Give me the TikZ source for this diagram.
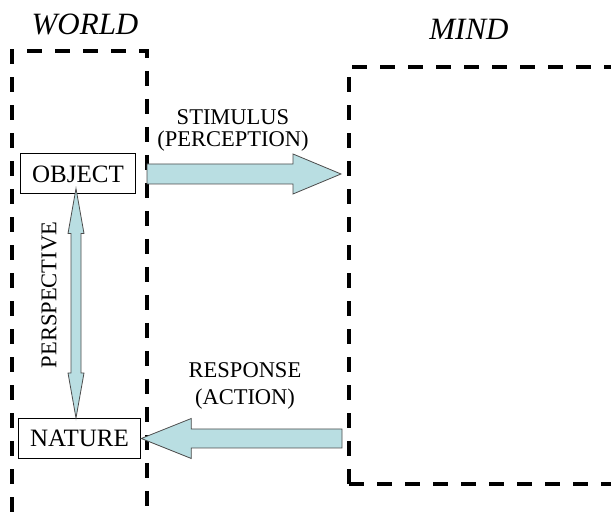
\documentclass[tikz,border=0pt]{standalone}
\usepackage{fontspec}
\setmainfont{Liberation Serif}
\usetikzlibrary{positioning, calc}

\definecolor{flowfill}{RGB}{185,222,226}

\begin{document}
\begin{tikzpicture}[x=0.5pt, y=-0.5pt,
    realm/.style={line width=1.8pt, dash pattern=on 7.5pt off 6.5pt},
    thing/.style={draw, line width=0.5pt, minimum height=20pt, inner xsep=6pt, font=\fontsize{12.5}{14}\selectfont},
    flow/.style={draw=black!70, line width=0.4pt, fill=flowfill},
    tag/.style={align=center, font=\fontsize{11.25}{11}\selectfont},
    title/.style={font=\fontsize{15.5}{18}\selectfont\itshape}]
        \clip (0,0) rectangle (611,512);

        % world and mind
        \coordinate (w-sw) at (12,540);
        \coordinate (w-nw) at (12,51);
        \coordinate (w-ne) at (147,51);
        \coordinate (w-se) at (147,540);
        \draw[realm] (w-sw) -- (w-nw) -- (w-ne) -- (w-se);

        \coordinate (m-sw) at (349,484);
        \coordinate (m-nw) at (349,67);
        \coordinate (m-ne) at (640,67);
        \coordinate (m-se) at (640,484);
        \draw[realm] (m-sw) -- (m-nw) -- (m-ne);
        \draw[realm] (m-sw) -- (m-se);

        \node[title] (world) at (85,24) {WORLD};
        \node[title] (mind) at (469,29) {MIND};

        \node[thing] (object) at (78,174) {OBJECT};
        \node[thing] (nature) at (79.5,438.5) {NATURE};

        % stimulus
        \coordinate (s0) at (w-ne |- object);
        \coordinate (s1) at ($(m-nw |- object)+(-8,0)$);
        \draw[flow] ($(s0)+(0,-10)$) -- ($(s1)+(-48,-10)$) -- ($(s1)+(-48,-20)$) -- (s1)
            -- ($(s1)+(-48,20)$) -- ($(s1)+(-48,10)$) -- ($(s0)+(0,10)$) -- cycle;
        \node[tag] (stimulus) at (233,130) {STIMULUS\\(PERCEPTION)};

        % response
        \coordinate (r0) at ($(m-sw |- nature)+(-7,0)$);
        \coordinate (r1) at (nature.east);
        \draw[flow] ($(r0)+(0,-9.5)$) -- ($(r1)+(50,-9.5)$) -- ($(r1)+(50,-20)$) -- (r1)
            -- ($(r1)+(50,20)$) -- ($(r1)+(50,9.5)$) -- ($(r0)+(0,9.5)$) -- cycle;
        \node[tag] (response) at (245,386) {RESPONSE\\[2.3pt](ACTION)};

        % perspective
        \coordinate (p0) at ($(object.south)+(-2,-6)$);
        \coordinate (p1) at ($(nature.north)+(-3.5,0)$);
        \draw[flow] (p0) -- ($(p0)+(8,45)$) -- ($(p0)+(5,45)$) -- ($(p1)+(5,-45)$) -- ($(p1)+(8,-45)$) -- (p1)
            -- ($(p1)+(-8,-45)$) -- ($(p1)+(-5,-45)$) -- ($(p0)+(-5,45)$) -- ($(p0)+(-8,45)$) -- cycle;
        \node[tag, rotate=90] (perspective) at (49,295) {PERSPECTIVE};
    \end{tikzpicture}
\end{document}
